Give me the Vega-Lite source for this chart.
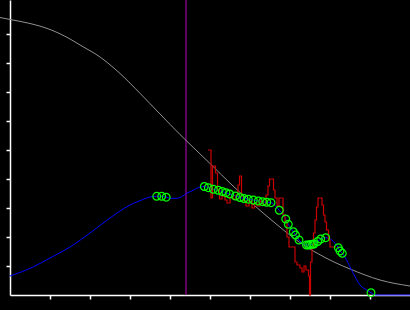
{
  "$schema": "https://vega.github.io/schema/vega-lite/v6.json",
  "autosize": {"type": "none"},
  "width": 400,
  "height": 295,
  "padding": {"left": 10, "top": 0, "right": 0, "bottom": 15},
  "background": "#000000",
  "config": {"view": {"stroke": null}},
  "datasets": {
    "gray": [
      {"x": -0.25, "y": 9.569}, {"x": 0, "y": 9.5}, {"x": 0.5, "y": 9.362}, {"x": 1.0, "y": 9.155},
      {"x": 1.5, "y": 8.828}, {"x": 1.75, "y": 8.621}, {"x": 2.25, "y": 8.207}, {"x": 2.75, "y": 7.638},
      {"x": 3.25, "y": 6.955}, {"x": 3.75, "y": 6.241}, {"x": 4.25, "y": 5.534}, {"x": 5.0, "y": 4.534},
      {"x": 5.575, "y": 3.759}, {"x": 6.125, "y": 3.069}, {"x": 6.625, "y": 2.483}, {"x": 7.125, "y": 1.931},
      {"x": 7.625, "y": 1.483}, {"x": 8.125, "y": 1.121}, {"x": 8.5, "y": 0.897}, {"x": 9.25, "y": 0.517},
      {"x": 10.0, "y": 0.31}
    ],
    "blue": [
      {"x": 0, "y": 0.655}, {"x": 0.575, "y": 0.966}, {"x": 1.0, "y": 1.276}, {"x": 1.5, "y": 1.655},
      {"x": 2.0, "y": 2.138}, {"x": 2.5, "y": 2.655}, {"x": 3.0, "y": 3.103}, {"x": 3.25, "y": 3.252},
      {"x": 3.5, "y": 3.379}, {"x": 3.6675, "y": 3.403}, {"x": 3.7925, "y": 3.403}, {"x": 3.905, "y": 3.372},
      {"x": 4.0, "y": 3.334}, {"x": 4.1675, "y": 3.334}, {"x": 4.2925, "y": 3.39}, {"x": 4.4175, "y": 3.507},
      {"x": 4.5425, "y": 3.586}, {"x": 4.6675, "y": 3.679}, {"x": 4.8575, "y": 3.741}, {"x": 4.9575, "y": 3.7},
      {"x": 5.0825, "y": 3.645}, {"x": 5.2075, "y": 3.61}, {"x": 5.3075, "y": 3.569}, {"x": 5.4, "y": 3.528},
      {"x": 5.4925, "y": 3.483}, {"x": 5.6375, "y": 3.414}, {"x": 5.75, "y": 3.362}, {"x": 5.85, "y": 3.328},
      {"x": 5.9575, "y": 3.303}, {"x": 6.0825, "y": 3.276}, {"x": 6.2075, "y": 3.241}, {"x": 6.3175, "y": 3.217},
      {"x": 6.4175, "y": 3.197}, {"x": 6.525, "y": 3.183}, {"x": 6.7325, "y": 2.921}, {"x": 6.8925, "y": 2.621},
      {"x": 6.9575, "y": 2.438}, {"x": 7.0825, "y": 2.183}, {"x": 7.1375, "y": 2.069}, {"x": 7.225, "y": 1.897},
      {"x": 7.4125, "y": 1.724}, {"x": 7.4625, "y": 1.724}, {"x": 7.5125, "y": 1.741}, {"x": 7.5625, "y": 1.748},
      {"x": 7.6, "y": 1.759}, {"x": 7.6925, "y": 1.845}, {"x": 7.7675, "y": 1.931}, {"x": 7.8925, "y": 1.976},
      {"x": 8.2075, "y": 1.631}, {"x": 8.25, "y": 1.517}, {"x": 8.3075, "y": 1.438}, {"x": 8.5825, "y": 0.748},
      {"x": 8.75, "y": 0.345}, {"x": 8.9175, "y": 0.172}, {"x": 9.025, "y": 0.079}, {"x": 9.15, "y": 0.0},
      {"x": 10.0, "y": 0.0}
    ],
    "red": [
      {"x": 4.95, "y": 5.0}, {"x": 5.025, "y": 3.345}, {"x": 5.0625, "y": 4.448}, {"x": 5.1375, "y": 4.207},
      {"x": 5.1875, "y": 3.621}, {"x": 5.2375, "y": 3.31}, {"x": 5.3, "y": 3.414}, {"x": 5.375, "y": 3.276},
      {"x": 5.425, "y": 3.172}, {"x": 5.5, "y": 3.379}, {"x": 5.575, "y": 3.31}, {"x": 5.65, "y": 3.448},
      {"x": 5.7, "y": 3.793}, {"x": 5.7375, "y": 4.103}, {"x": 5.7875, "y": 3.414}, {"x": 5.8375, "y": 3.241},
      {"x": 5.9, "y": 3.069}, {"x": 5.975, "y": 3.241}, {"x": 6.05, "y": 3.0}, {"x": 6.1125, "y": 3.172},
      {"x": 6.175, "y": 3.069}, {"x": 6.25, "y": 3.241}, {"x": 6.325, "y": 3.103}, {"x": 6.4, "y": 3.448},
      {"x": 6.45, "y": 3.759}, {"x": 6.4875, "y": 4.0}, {"x": 6.5875, "y": 3.621}, {"x": 6.625, "y": 3.345},
      {"x": 6.675, "y": 3.069}, {"x": 6.725, "y": 3.345}, {"x": 6.825, "y": 2.759}, {"x": 6.875, "y": 2.517},
      {"x": 6.925, "y": 2.0}, {"x": 6.975, "y": 1.655}, {"x": 7.125, "y": 1.138}, {"x": 7.175, "y": 1.034},
      {"x": 7.25, "y": 0.931}, {"x": 7.3, "y": 0.793}, {"x": 7.35, "y": 1.0}, {"x": 7.4, "y": 0.862},
      {"x": 7.4625, "y": 0.655}, {"x": 7.4875, "y": 0.0}, {"x": 7.5125, "y": 1.138}, {"x": 7.55, "y": 1.621},
      {"x": 7.5875, "y": 2.138}, {"x": 7.625, "y": 2.586}, {"x": 7.6625, "y": 3.034}, {"x": 7.7, "y": 3.345},
      {"x": 7.8, "y": 3.103}, {"x": 7.8375, "y": 2.759}, {"x": 7.875, "y": 2.517}, {"x": 7.9125, "y": 2.241},
      {"x": 7.9625, "y": 1.897}, {"x": 8.0, "y": 1.655}, {"x": 8.15, "y": 1.655}
    ],
    "circles": [
      {"x": 3.6675, "y": 3.403}, {"x": 3.7925, "y": 3.403}, {"x": 3.905, "y": 3.372},
      {"x": 4.8575, "y": 3.741}, {"x": 4.9575, "y": 3.7}, {"x": 5.0825, "y": 3.645}, {"x": 5.2075, "y": 3.61},
      {"x": 5.3075, "y": 3.569}, {"x": 5.4, "y": 3.528}, {"x": 5.4925, "y": 3.483}, {"x": 5.6375, "y": 3.414},
      {"x": 5.75, "y": 3.362}, {"x": 5.85, "y": 3.328}, {"x": 5.9575, "y": 3.303}, {"x": 6.0825, "y": 3.276},
      {"x": 6.2075, "y": 3.241}, {"x": 6.3175, "y": 3.217}, {"x": 6.4175, "y": 3.197}, {"x": 6.525, "y": 3.183},
      {"x": 6.7325, "y": 2.921}, {"x": 6.8925, "y": 2.621}, {"x": 6.9575, "y": 2.438}, {"x": 7.0825, "y": 2.183},
      {"x": 7.1375, "y": 2.069}, {"x": 7.225, "y": 1.897}, {"x": 7.4125, "y": 1.724}, {"x": 7.4625, "y": 1.724},
      {"x": 7.5125, "y": 1.741}, {"x": 7.5625, "y": 1.748}, {"x": 7.6, "y": 1.759}, {"x": 7.6925, "y": 1.845},
      {"x": 7.7675, "y": 1.931}, {"x": 7.8925, "y": 1.976}, {"x": 8.2075, "y": 1.631}, {"x": 8.25, "y": 1.517},
      {"x": 8.3075, "y": 1.438}, {"x": 9.025, "y": 0.079}
    ],
    "vline": [{"x": 4.4}]
  },
  "layer": [
    {
      "data": {"name": "vline"},
      "mark": {"type": "rule", "color": "#800080", "strokeWidth": 1.5},
      "encoding": {
        "x": {
          "field": "x", "type": "quantitative",
          "scale": {"domain": [0, 10], "nice": false, "zero": false},
          "axis": {
            "values": [1, 2, 3, 4, 5, 6, 7, 8, 9], "tickCount": 30, "labels": false, "title": null, "grid": false,
            "domainColor": "#ffffff", "tickColor": "#ffffff", "tickSize": 4, "domainWidth": 1.5, "tickWidth": 1.5
          }
        }
      }
    },
    {
      "data": {"name": "gray"},
      "mark": {"type": "line", "color": "#909090", "strokeWidth": 1, "interpolate": "monotone"},
      "encoding": {
        "x": {"field": "x", "type": "quantitative"},
        "y": {
          "field": "y", "type": "quantitative",
          "scale": {"domain": [0, 10.172], "nice": false, "zero": false},
          "axis": {
            "values": [1, 2, 3, 4, 5, 6, 7, 8, 9], "tickCount": 30, "labels": false, "title": null, "grid": false,
            "domainColor": "#ffffff", "tickColor": "#ffffff", "tickSize": 4, "domainWidth": 1.5, "tickWidth": 1.5
          }
        }
      }
    },
    {
      "data": {"name": "blue"},
      "mark": {"type": "line", "color": "#0000ff", "strokeWidth": 1, "interpolate": "monotone"},
      "encoding": {
        "x": {"field": "x", "type": "quantitative"},
        "y": {"field": "y", "type": "quantitative"}
      }
    },
    {
      "data": {"name": "red"},
      "mark": {"type": "line", "color": "#cc0000", "strokeWidth": 1.2, "interpolate": "step-after"},
      "encoding": {
        "x": {"field": "x", "type": "quantitative"},
        "y": {"field": "y", "type": "quantitative"}
      }
    },
    {
      "data": {"name": "circles"},
      "mark": {"type": "point", "shape": "circle", "filled": false, "color": "#00ff00", "size": 60, "strokeWidth": 1.2, "opacity": 1},
      "encoding": {
        "x": {"field": "x", "type": "quantitative"},
        "y": {"field": "y", "type": "quantitative"}
      }
    }
  ]
}
